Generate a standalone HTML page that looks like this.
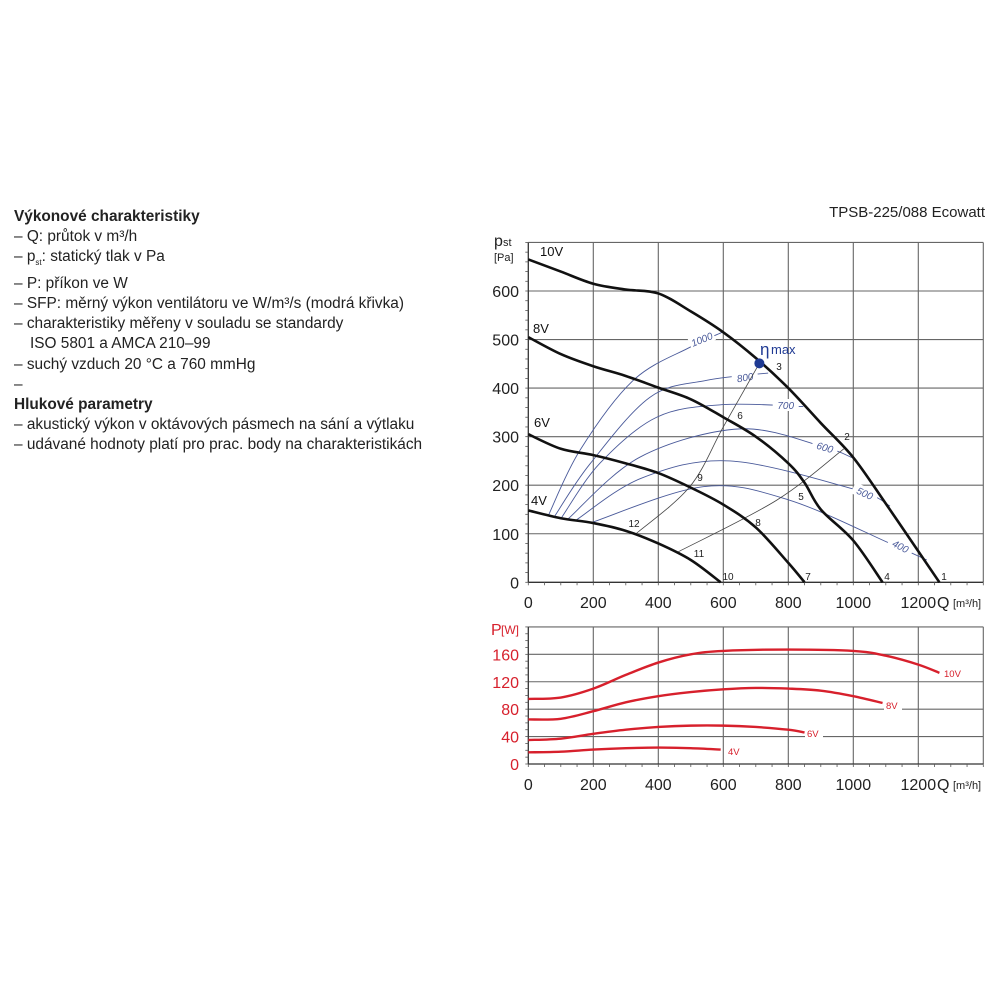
<!DOCTYPE html>
<html><head><meta charset="utf-8">
<style>
body{margin:0;background:#fff;width:1000px;height:1000px;overflow:hidden;position:relative;font-family:"Liberation Sans",sans-serif;}
.txt{position:absolute;left:14px;top:207px;font-size:15.4px;line-height:20.2px;color:#222;}
.txt div{white-space:nowrap}
.b{font-weight:bold;}
.i{padding-left:16px;}
</style></head><body>
<div class="txt">
<div class="b">Výkonové charakteristiky</div>
<div>– Q: průtok v m³/h</div>
<div>– p<sub style="font-size:8px">st</sub>: statický tlak v Pa</div>
<div>– P: příkon ve W</div>
<div>– SFP: měrný výkon ventilátoru ve W/m³/s (modrá křivka)</div>
<div>– charakteristiky měřeny v souladu se standardy</div>
<div class="i">ISO 5801 a AMCA 210–99</div>
<div>– suchý vzduch 20 °C a 760 mmHg</div>
<div>–</div>
<div class="b">Hlukové parametry</div>
<div>– akustický výkon v oktávových pásmech na sání a výtlaku</div>
<div>– udávané hodnoty platí pro prac. body na charakteristikách</div>
</div>
<svg id="chart" width="1000" height="1000" style="position:absolute;left:0;top:0" font-family="Liberation Sans, sans-serif"></svg>
<script>
const xTicks=[0,200,400,600,800,1000,1200];
const pTicks=[0,100,200,300,400,500,600];
const wTicks=[0,40,80,120,160];
const fan10=[[0,665],[100,640],[200,615],[300,603],[400,595],[500,558],[600,515],[700,462],[800,400],[900,328],[1000,257],[1100,162],[1200,64],[1265,0]];
const fan8=[[0,505],[100,470],[200,445],[300,425],[400,401],[500,377],[600,340],[700,300],[800,245],[850,205],[900,150],[1000,86],[1090,0]];
const fan6=[[0,305],[100,275],[200,262],[300,245],[400,225],[500,195],[600,160],[700,113],[800,40],[850,0]];
const fan4=[[0,148],[100,132],[200,122],[300,106],[400,80],[500,46],[592,0]];
const sfp1000=[[62,138],[159,272],[323,416],[497,484],[597,515]];
const sfp800=[[82,137],[190,244],[374,381],[549,416],[738,431]];
const sfp700=[[102,133],[220,245],[395,340],[600,366],[846,362]];
const sfp600=[[123,131],[344,258],[651,316],[908,279],[995,257]];
const sfp500=[[149,129],[350,215],[621,250],[1010,190],[1113,157]];
const sfp400=[[198,124],[538,197],[800,170],[1113,80],[1226,46]];
const op3=[[333,101],[497,197],[600,320],[711,451]];
const op2=[[462,63],[764,169],[971,275]];
const pow10=[[0,95],[100,97],[200,110],[300,130],[400,148],[500,160],[600,165],[800,167],[1000,165],[1100,158],[1200,145],[1265,133]];
const pow8=[[0,65],[100,66],[200,77],[300,90],[400,99],[500,105],[600,109],[700,111],[800,110],[900,107],[1000,99],[1090,89]];
const pow6=[[0,35],[100,37],[200,44],[300,50],[400,54],[500,56],[600,56],[700,54],[800,50],[850,46]];
const pow4=[[0,17],[100,18],[200,21],[300,23],[400,24],[500,23],[592,21]];
const etaMax=[711,451];

const NS="http://www.w3.org/2000/svg";
const svg=document.getElementById('chart');
const X=q=>528.3+q*0.325;
const Y=p=>582.3-p*0.4855;
const YW=w=>764-w*0.6854;
function el(tag,attrs,parent){const e=document.createElementNS(NS,tag);for(const k in attrs)e.setAttribute(k,attrs[k]);(parent||svg).appendChild(e);return e;}
function path(pts,fx,fy){const P=pts.map(p=>[fx(p[0]),fy(p[1])]);let d="M"+P[0][0]+","+P[0][1];
for(let i=0;i<P.length-1;i++){const p0=P[i-1]||P[i],p1=P[i],p2=P[i+1],p3=P[i+2]||P[i+1];
d+=" C"+(p1[0]+(p2[0]-p0[0])/6)+","+(p1[1]+(p2[1]-p0[1])/6)+" "+(p2[0]-(p3[0]-p1[0])/6)+","+(p2[1]-(p3[1]-p1[1])/6)+" "+p2[0]+","+p2[1];}return d;}
function text(x,y,s,attrs){const t=el('text',Object.assign({x:x,y:y},attrs||{}));t.textContent=s;return t;}

// ---- top chart grid
const L=X(0),R=X(1400),T=Y(700),B=Y(0);
let g=el('g',{});


for(const q of [200,400,600,800,1000,1200,1400]){const l=el('line',{x1:X(q),x2:X(q),y1:T,y2:B,stroke:'#666','stroke-width':1.1},g);}
for(const p of [100,200,300,400,500,600,700]){el('line',{x1:L,x2:R,y1:Y(p),y2:Y(p),stroke:'#666','stroke-width':1.1},g);}
el('line',{x1:L,x2:L,y1:T,y2:B,stroke:'#333','stroke-width':1.3},g);
el('line',{x1:L,x2:R,y1:B,y2:B,stroke:'#333','stroke-width':1.3},g);
for(let p=0;p<=700;p+=20)el('line',{x1:L-3,x2:L,y1:Y(p),y2:Y(p),stroke:'#555','stroke-width':0.8},g);
for(let q=0;q<=1400;q+=50)el('line',{x1:X(q),x2:X(q),y1:B,y2:B+3,stroke:'#555','stroke-width':0.8},g);
for(const p of pTicks){const t=text(519,Y(p)+6,String(p),{'font-size':16,'text-anchor':'end',fill:'#222'});

}
for(const q of xTicks){const t=text(X(q),608,String(q),{'font-size':16,'text-anchor':'middle',fill:'#222'});

}
let t=text(937,608,'Q',{'font-size':16,fill:'#222'});


text(953,607,'[m³/h]',{'font-size':11,fill:'#222'});
t=text(494,246,'p',{'font-size':16,fill:'#222'});


text(503,246,'st',{'font-size':11,fill:'#222'});
text(494,261,'[Pa]',{'font-size':11,fill:'#222'});

// white gaps behind SFP labels
const sfpLabels=[['1000',701.7,339,-22],['800',745,377,-10],['700',785.7,405,0],['600',825,447,16],['500',865,493,25],['400',900.7,546,27]];
// blue SFP curves
const sfps=[sfp1000,sfp800,sfp700,sfp600,sfp500,sfp400];
sfps.forEach((s,i)=>{const e=el('path',{d:path(s,X,Y),fill:'none',stroke:'#4a5a9a','stroke-width':0.9});

});
sfpLabels.forEach(l=>{el('rect',{x:l[1]-13,y:l[2]-6,width:26,height:12,fill:'#fff',transform:`rotate(${l[3]} ${l[1]} ${l[2]})`});
const e=text(l[1],l[2]+4,l[0],{'font-size':10,'text-anchor':'middle',fill:'#4a5a9a','font-style':'italic',transform:`rotate(${l[3]} ${l[1]} ${l[2]})`});

});
// operating lines
[op3,op2].forEach(o=>{const e=el('path',{d:path(o,X,Y),fill:'none',stroke:'#444','stroke-width':0.8});

});
// fan curves
const fans=[[fan10,'10V',[540,256]],[fan8,'8V',[533,333]],[fan6,'6V',[534,427]],[fan4,'4V',[531,505]]];
fans.forEach(f=>{const e=el('path',{d:path(f[0],X,Y),fill:'none',stroke:'#111','stroke-width':2.6});


const l=text(f[2][0],f[2][1],f[1],{'font-size':13,fill:'#111'});

});
// point numbers
const nums=[['1',944,580],['2',847,440],['3',779,370],['4',887,580],['5',801,500],['6',740,419],['7',808,580],['8',758,526],['9',700,481],['10',728,580],['11',699,557],['12',634,527]];
nums.forEach(n=>{const e=text(n[1],n[2],n[0],{'font-size':10,'text-anchor':'middle',fill:'#222'});

});
let d=el('circle',{cx:X(etaMax[0]),cy:Y(etaMax[1]),r:5,fill:'#1f3a93'});


t=text(760,355,'η',{'font-size':17,fill:'#1f3a93'});


text(771,354,'max',{'font-size':13,fill:'#1f3a93'});

// ---- power chart
const WT=YW(200),WB=YW(0);
g=el('g',{});


for(const q of [200,400,600,800,1000,1200,1400])el('line',{x1:X(q),x2:X(q),y1:WT,y2:WB,stroke:'#666','stroke-width':1.1},g);
for(const w of [40,80,120,160,200])el('line',{x1:L,x2:R,y1:YW(w),y2:YW(w),stroke:'#666','stroke-width':1.1},g);
el('line',{x1:L,x2:L,y1:WT,y2:WB,stroke:'#333','stroke-width':1.3},g);
el('line',{x1:L,x2:R,y1:WB,y2:WB,stroke:'#333','stroke-width':1.3},g);
for(let w=0;w<=200;w+=10)el('line',{x1:L-3,x2:L,y1:YW(w),y2:YW(w),stroke:'#555','stroke-width':0.8},g);
for(let q=0;q<=1400;q+=50)el('line',{x1:X(q),x2:X(q),y1:WB,y2:WB+3,stroke:'#555','stroke-width':0.8},g);
for(const w of wTicks){const e=text(519,YW(w)+6,String(w),{'font-size':16,'text-anchor':'end',fill:'#d7202c'});

}
for(const q of xTicks){const e=text(X(q),790,String(q),{'font-size':16,'text-anchor':'middle',fill:'#222'});

}
text(937,790,'Q',{'font-size':16,fill:'#222'});
text(953,789,'[m³/h]',{'font-size':11,fill:'#222'});
t=text(491,635,'P',{'font-size':16,fill:'#d7202c'});


text(501,634,'[W]',{'font-size':12,fill:'#d7202c'});
const pows=[[pow10,'10V',[944,677]],[pow8,'8V',[886,709]],[pow6,'6V',[807,737]],[pow4,'4V',[728,755]]];
pows.forEach(p=>{const e=el('path',{d:path(p[0],X,YW),fill:'none',stroke:'#d7202c','stroke-width':2.4});


el('rect',{x:p[2][0]-2,y:p[2][1]-10,width:18,height:13,fill:'#fff'});
const l=text(p[2][0],p[2][1],p[1],{'font-size':9.5,fill:'#d7202c'});

});

t=text(985,217,'TPSB-225/088 Ecowatt',{'font-size':15,'text-anchor':'end',fill:'#222'});


</script>
</body></html>
